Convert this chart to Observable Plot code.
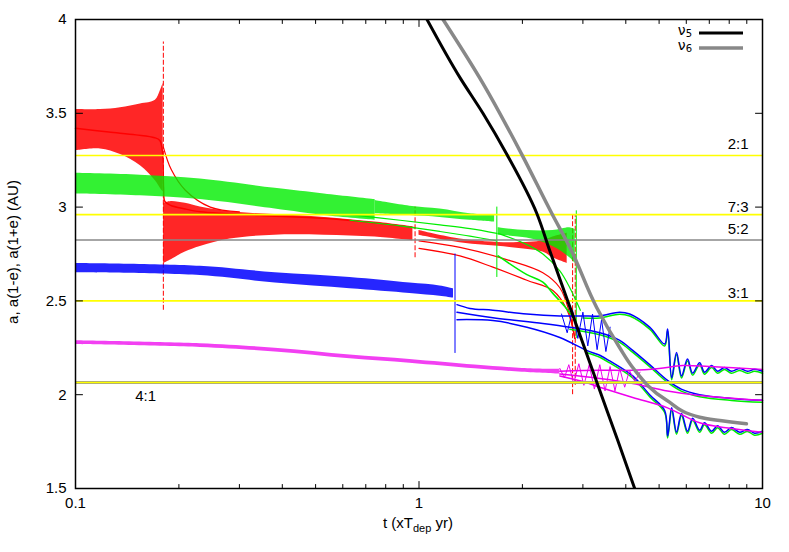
<!DOCTYPE html>
<html><head><meta charset="utf-8">
<script src="https://cdn.jsdelivr.net/npm/d3@7"></script>
<script src="https://cdn.jsdelivr.net/npm/@observablehq/plot@0.6"></script>
<style>body{margin:0;background:#fff;}</style>
</head><body><div id="chart"></div>
<script>
// ---- data: [t, value] lines and [t, low, high] noisy bands ----
const redBandEarly = [[0.1,3.30,3.52],[0.1182,3.31,3.52],[0.1352,3.28,3.53],[0.1545,3.22,3.55],[0.1708,3.14,3.57],[0.1766,3.10,3.62],[0.180,3.08,3.66]];
const redAEarly = [[0.1,3.42],[0.125,3.40],[0.15,3.385],[0.17,3.37],[0.176,3.355],[0.179,3.30],[0.1805,3.10],[0.182,3.03],[0.1889,3.01],[0.2088,2.99],[0.2309,2.975],[0.2729,2.965],[0.345,2.955],[0.53,2.94],[0.745,2.915],[0.974,2.89]];
const redQFall = [[0.1802,3.32],[0.19,3.2],[0.2088,3.09],[0.2468,3.0],[0.30,2.975]];
const redBandMid = [[0.1805,2.70,3.02],[0.19,2.72,3.03],[0.2088,2.76,3.02],[0.2309,2.79,3.00],[0.2822,2.83,2.975],[0.38,2.85,2.96],[0.53,2.85,2.945],[0.745,2.84,2.92],[0.96,2.82,2.895]];
const redHiLate = [[1.0,2.85,2.875],[1.316,2.81,2.83],[1.839,2.785,2.81],[2.294,2.76,2.82],[2.453,2.73,2.84],[2.70,2.70,2.86]];
const redALate = [[1.0,2.82],[1.316,2.785],[1.839,2.715],[2.294,2.65],[2.57,2.57],[2.748,2.43],[2.842,2.30]];
const redLoLate = [[1.0,2.78],[1.316,2.74],[1.641,2.68],[2.061,2.61],[2.453,2.555],[2.70,2.45],[2.842,2.30]];
const redSpikes = [[0.1802,2.45,3.88],[0.974,2.73,3.0],[2.80,2.0,2.97],[2.85,2.05,2.96]];

const greenBandEarly = [[0.1,3.07,3.18],[0.1545,3.06,3.17],[0.2309,3.04,3.15],[0.3814,2.99,3.10],[0.53,2.955,3.07],[0.745,2.93,3.04]];
const greenHiMid = [[0.745,2.965,3.035],[0.941,2.955,3.005],[1.151,2.945,2.99],[1.407,2.93,2.965],[1.66,2.92,2.955]];
const greenAMid = [[0.63,2.96],[0.881,2.93],[1.151,2.905],[1.407,2.885],[1.685,2.86]];
const greenLoMid = [[0.63,2.93],[0.881,2.90],[1.151,2.87],[1.407,2.845],[1.685,2.82]];
const greenHiLate = [[1.7,2.85,2.89],[2.061,2.835,2.875],[2.453,2.79,2.875],[2.748,2.73,2.89],[2.85,2.70,2.88]];
const greenALate = [[1.7,2.86],[2.061,2.80],[2.294,2.75],[2.57,2.66],[2.748,2.57],[2.95,2.45]];
const greenLoLate = [[1.7,2.74],[2.061,2.64],[2.294,2.60],[2.453,2.54],[2.657,2.47],[2.842,2.40]];
const greenSpikes = [[1.685,2.625,3.0],[2.87,2.30,2.98]];

const blueBandEarly = [[0.1,2.65,2.70],[0.2309,2.635,2.685],[0.3814,2.595,2.65],[0.63,2.565,2.625],[0.941,2.54,2.595],[1.151,2.525,2.58],[1.26,2.515,2.565]];
const blueNoise = [[2.6,2.43],[2.7,2.33],[2.8,2.45],[2.9,2.30],[3.0,2.44],[3.1,2.26],[3.2,2.43],[3.3,2.24],[3.4,2.40],[3.5,2.23],[3.6,2.36]];
const blueHi = [[1.29,2.48],[1.407,2.46],[1.641,2.45],[2.061,2.43],[2.57,2.42],[3.0,2.42],[3.36,2.42],[3.84,2.44],[4.107,2.43],[4.693,2.36],[5.19,2.27],[5.295,2.35],[5.44,2.09],[5.62,2.225],[5.81,2.10],[6.05,2.19],[6.26,2.115],[6.56,2.17],[6.78,2.12],[7.11,2.155],[7.40,2.125],[7.75,2.145],[8.12,2.125],[8.58,2.14],[9.04,2.125],[9.48,2.135],[10,2.125]];
const blueA = [[1.29,2.44],[1.641,2.41],[2.294,2.38],[2.748,2.36],[3.36,2.33],[3.84,2.29],[4.19,2.236],[4.693,2.16],[5.29,2.076],[5.8,2.03],[6.56,2.0],[8.12,1.98],[10,1.97]];
const blueLo = [[1.29,2.40],[1.641,2.395],[2.061,2.36],[2.57,2.305],[3.077,2.236],[3.36,2.21],[3.592,2.18],[4.19,2.10],[4.693,2.0],[5.19,1.916],[5.295,1.78],[5.44,1.93],[5.62,1.80],[5.81,1.90],[6.05,1.805],[6.26,1.875],[6.56,1.81],[6.78,1.85],[7.11,1.805],[7.40,1.835],[7.75,1.80],[8.12,1.825],[8.58,1.80],[9.04,1.815],[9.48,1.795],[10,1.805]];
const blueSpikes = [[1.273,2.22,2.75]];

const magBand = [[0.1,2.268,2.288],[0.2309,2.252,2.272],[0.3814,2.228,2.248],[0.63,2.192,2.212],[0.941,2.168,2.188],[1.455,2.138,2.158],[2.0,2.12,2.14],[2.57,2.11,2.135]];
const magNoise = [[2.57,2.14],[2.65,2.09],[2.73,2.16],[2.82,2.06],[2.92,2.165],[3.02,2.05],[3.13,2.16],[3.24,2.03],[3.36,2.16],[3.48,2.02],[3.6,2.15],[3.72,2.02],[3.84,2.14],[3.97,2.04],[4.1,2.13],[4.25,2.07],[4.4,2.12]];
const magHi = [[2.57,2.125],[3.36,2.13],[4.19,2.13],[5.0,2.14],[5.85,2.155],[7.0,2.15],[10,2.135]];
const magA = [[2.57,2.11],[3.36,2.086],[4.19,2.06],[5.29,2.02],[6.56,1.996],[10,1.97]];
const magLo = [[2.57,2.10],[3.0,2.07],[3.36,2.04],[4.19,1.985],[5.29,1.93],[6.56,1.85],[8.12,1.82],[10,1.80]];

const nu5 = [[1.055,4.0],[1.316,3.69],[1.535,3.50],[1.803,3.28],[2.203,2.966],[2.40,2.77],[2.71,2.50],[3.394,2.0],[3.8,1.75],[4.245,1.5]];
const nu6 = [[1.175,4.0],[1.535,3.66],[1.993,3.28],[2.436,2.966],[2.75,2.785],[3.29,2.465],[3.84,2.25],[4.19,2.145],[5.26,1.97],[6.56,1.88],[8.98,1.845]];

const resNames = ["2:1","7:3","5:2","3:1","4:1"];
const resA = [3.275, 2.96, 2.825, 2.50, 2.065];

const xTicks = [0.1, 1, 10];
const xMinorTicks = [0.2,0.3,0.4,0.5,0.6,0.7,0.8,0.9,2,3,4,5,6,7,8,9];
const yTicks = [1.5, 2, 2.5, 3, 3.5, 4];

// ---- styling / helpers ----
const RED = "#ff0000", GREEN = "#00ee00", BLUE = "#0000ff", MAG = "#ee00ee";
const T = d => d[0], V = d => d[1];
const line = (data, stroke, strokeWidth = 1.2, extra = {}) =>
  Plot.line(data, {x: T, y: V, stroke, strokeWidth, curve: "catmull-rom", ...extra});
const band = (data, fill, fillOpacity = 0.85) =>
  Plot.areaY(data, {x: T, y1: d => d[1], y2: d => d[2], fill, fillOpacity, curve: "catmull-rom"});
const spikes = (data, stroke, dash) =>
  Plot.ruleX(data, {x: T, y1: d => d[1], y2: d => d[2], stroke, strokeWidth: 1, strokeDasharray: dash});

const res = resNames.map((name, i) => ({name, a: resA[i]}));
const labelDy = {"2:1": -11, "7:3": -7, "5:2": -11, "3:1": -8};
const tickShape = {draw(ctx, l) { ctx.moveTo(0, 0); ctx.lineTo(0, -l); }};
const vt = (data, o) => Plot.vector(data, {anchor: "start", shape: tickShape, stroke: "black", strokeWidth: 1, ...o});

const chart = Plot.plot({
  width: 789, height: 552,
  marginLeft: 75, marginRight: 27, marginTop: 19, marginBottom: 64,
  x: {type: "log", domain: [0.1, 10]},
  y: {domain: [1.5, 4]},
  style: {fontFamily: "'Liberation Sans', Arial, sans-serif", fontSize: "15px", background: "white", color: "black"},
  marks: [
    // red
    band(redBandEarly, RED), line(redAEarly, RED, 1.5), line(redQFall, RED, 1.2),
    band(redBandMid, RED), band(redHiLate, RED), line(redALate, RED), line(redLoLate, RED),
    spikes(redSpikes, RED, "5,2"),
    // green
    band(greenBandEarly, GREEN, 0.8), band(greenHiMid, GREEN, 0.8), line(greenAMid, GREEN), line(greenLoMid, GREEN),
    band(greenHiLate, GREEN, 0.8), line(greenALate, GREEN), line(greenLoLate, GREEN, 1.6),
    spikes(greenSpikes, GREEN),
    line(blueHi.filter(d => d[0] > 2.7), GREEN, 1.5, {dy: 2}),
    line(blueA.filter(d => d[0] > 2.7), GREEN, 1.5, {dy: 2}),
    line(blueLo.filter(d => d[0] > 2.7), GREEN, 1.5, {dy: 2}),
    // blue
    band(blueBandEarly, BLUE),
    line(blueNoise, BLUE, 1, {curve: "linear"}),
    line(blueHi, BLUE, 1.5), line(blueA, BLUE, 1.5), line(blueLo, BLUE, 1.5),
    spikes(blueSpikes, BLUE),
    // magenta
    band(magBand, MAG, 0.75),
    line(magNoise, MAG, 1, {curve: "linear"}),
    line(magHi, MAG, 1.5), line(magA, MAG, 1.5), line(magLo, MAG, 1.5),
    // resonances
    Plot.ruleY(res.filter(d => d.name === "4:1"), {y: "a", stroke: "#999", strokeWidth: 3}),
    Plot.ruleY(res, {y: "a", stroke: d => d.name === "5:2" ? "#888" : "#ffff00", strokeWidth: 1.6}),
    ...Object.entries(labelDy).map(([name, dy]) =>
      Plot.text(res.filter(d => d.name === name), {x: () => 10, y: "a", text: "name", textAnchor: "end", dx: -14, dy, fill: "black"})),
    Plot.text(res.filter(d => d.name === "4:1"), {x: () => 0.16, y: "a", text: "name", dy: 14, fill: "black"}),
    // secular resonances
    line(nu5, "#000000", 3, {curve: "monotone-y", clip: true}),
    line(nu6, "#888888", 3.5, {curve: "monotone-y", clip: true}),
    // frame, ticks, axes
    Plot.frame({stroke: "black", strokeWidth: 1.5}),
    vt(yTicks, {x: () => 0.1, y: d => d, length: 7, rotate: 90}),
    vt(yTicks, {x: () => 10, y: d => d, length: 7, rotate: -90}),
    vt(xTicks, {x: d => d, y: () => 1.5, length: 7, rotate: 0}),
    vt(xTicks, {x: d => d, y: () => 4, length: 7, rotate: 180}),
    vt(xMinorTicks, {x: d => d, y: () => 1.5, length: 4, rotate: 0}),
    vt(xMinorTicks, {x: d => d, y: () => 4, length: 4, rotate: 180}),
    Plot.axisX(xTicks, {tickSize: 0, tickPadding: 9, tickFormat: d => String(d), label: null}),
    Plot.axisY(yTicks, {tickSize: 0, tickPadding: 9, tickFormat: d => String(d), label: null})
  ]
});
document.getElementById("chart").appendChild(chart);

const svg = d3.select(chart);
// legend
const leg = svg.append("g").attr("font-family", "'DejaVu Sans', sans-serif");
[["5", "#000000", 3], ["6", "#888888", 3.5]].forEach(([k, c, w], i) => {
  const y = 33 + i * 15;
  const t = leg.append("text").attr("x", 692).attr("y", y + 2).attr("text-anchor", "end").attr("font-size", 14);
  t.append("tspan").text("ν");
  t.append("tspan").attr("dy", 2).attr("font-size", 10).text(k);
  leg.append("line").attr("x1", 699).attr("x2", 743).attr("y1", y).attr("y2", y).attr("stroke", c).attr("stroke-width", w);
});
// axis titles
const xt = svg.append("text").attr("x", 418).attr("y", 528).attr("text-anchor", "middle").attr("font-size", 15);
xt.append("tspan").text("t (xT");
xt.append("tspan").attr("dy", 4).attr("font-size", 11).text("dep");
xt.append("tspan").attr("dy", -4).text(" yr)");
svg.append("text").attr("transform", "translate(18,252) rotate(-90)").attr("text-anchor", "middle").attr("font-size", 15)
  .text("a, a(1-e), a(1+e) (AU)");
</script></body></html>
